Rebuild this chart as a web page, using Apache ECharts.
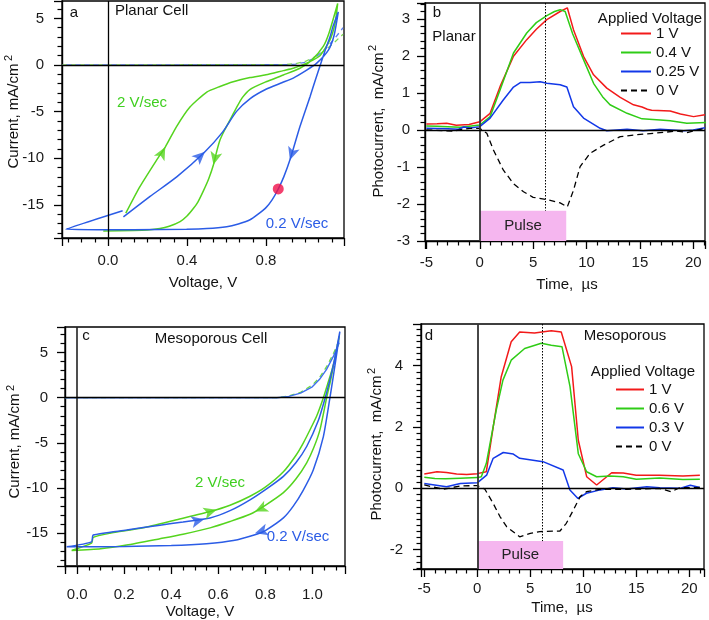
<!DOCTYPE html>
<html><head><meta charset="utf-8">
<script src="https://cdn.jsdelivr.net/npm/echarts@6/dist/echarts.min.js"></script>
<style>html,body{margin:0;padding:0;background:#fff}#c{width:709px;height:620px}</style>
</head><body><div id="c"></div>
<script>
// ---------- Panel a: planar cell J-V (V, mA/cm2) ----------
const A_DARK_GREEN = [[-0.233,0],[0.9,0.05],[0.95,0.15],[1.0,0.4],[1.05,0.9],[1.1,1.6],[1.15,2.5],[1.19,3.3]];
const A_DARK_BLUE  = [[-0.233,0],[0.9,0.03],[0.95,0.1],[1.0,0.3],[1.05,0.8],[1.1,1.7],[1.15,2.9],[1.19,4.0]];
const A_GREEN_FWD = [[0.09,-15.9],[0.16,-13.1],[0.246,-10.2],[0.29,-8.8],[0.347,-6.6],[0.415,-4.5],[0.5,-2.9],[0.567,-2.3],[0.634,-1.8],[0.719,-1.35],[0.8,-1.05],[0.888,-0.6],[0.938,-0.35],[1.006,0.2],[1.073,1.0],[1.124,2.7],[1.15,4.5],[1.163,6.6]];
const A_GREEN_REV = [[1.12,3.5],[1.09,2.0],[1.03,0.5],[0.972,-0.35],[0.888,-1.07],[0.8,-1.8],[0.72,-2.6],[0.68,-3.5],[0.65,-4.6],[0.62,-5.8],[0.59,-7.0],[0.567,-8.05],[0.55,-9.3],[0.534,-10.7],[0.51,-12.2],[0.483,-13.5],[0.455,-14.7],[0.432,-15.4],[0.4,-16.2],[0.365,-16.8],[0.31,-17.3],[0.263,-17.55],[0.2,-17.7],[0.128,-17.75],[-0.024,-17.8]];
const A_BLUE_FWD = [[0.078,-16.3],[0.213,-14.1],[0.348,-12.0],[0.491,-9.3],[0.58,-7.2],[0.65,-5.0],[0.72,-3.6],[0.8,-2.6],[0.88,-1.9],[0.938,-1.4],[1.006,-0.55],[1.057,0.2],[1.116,1.6],[1.145,3.2],[1.166,5.7]];
const A_BLUE_REV = [[1.14,4.2],[1.124,3.0],[1.1,1.6],[1.075,0],[1.05,-1.6],[1.023,-3.4],[0.972,-6.6],[0.921,-10.2],[0.89,-12.0],[0.862,-13.3],[0.83,-14.5],[0.8,-15.3],[0.76,-16.0],[0.719,-16.6],[0.66,-17.05],[0.601,-17.35],[0.5,-17.55],[0.398,-17.62],[0.128,-17.68],[-0.213,-17.62],[0.074,-15.63]];
const A_DOT = [[0.862,-13.3]];
const A_ARROW_POS = [[0.29,-8.8],[0.491,-9.3],[0.534,-10.7],[0.921,-10.2]];
const A_X_TICKS = [0.0,0.4,0.8];
const A_Y_TICKS = [-15,-10,-5,0,5];

// ---------- Panel b: planar photocurrent (us, mA/cm2) ----------
const B_RED = [[-5,0.16],[-4,0.17],[-3.1,0.18],[-2.2,0.13],[-1,0.15],[0,0.22],[0.97,0.45],[1.9,1.17],[3.16,1.99],[4.4,2.44],[5.3,2.72],[6.28,2.98],[7.53,3.2],[8.2,3.3],[8.78,2.71],[9.72,1.99],[10.66,1.49],[11.9,1.13],[13.16,0.88],[14.4,0.68],[15.2,0.62],[15.7,0.56],[16.1,0.53],[17.84,0.51],[18.8,0.43],[20.03,0.36],[21.1,0.41]];
const B_GREEN = [[-5,0.11],[-4,0.1],[-3,0.09],[-1.84,0.07],[-1,0.1],[0,0.135],[0.97,0.36],[1.9,1.08],[3.16,2.08],[4.4,2.62],[5.3,2.9],[6.28,3.09],[7.0,3.2],[7.53,3.25],[8.0,3.2],[8.7,2.6],[9.72,1.9],[10.66,1.26],[11.5,0.9],[12.2,0.68],[13.8,0.45],[15.2,0.3],[16.9,0.27],[17.84,0.25],[19.4,0.18],[21.2,0.2]];
const B_BLUE = [[-5,0.045],[-3,0.03],[-2,0.02],[-1.5,0.08],[-0.9,0.05],[0,0.09],[0.97,0.32],[2.2,0.81],[3.16,1.16],[3.8,1.28],[4.7,1.28],[5.66,1.3],[6.28,1.26],[7.53,1.22],[8.16,1.16],[8.78,0.63],[9.72,0.32],[11.28,0.045],[11.9,-0.02],[13.8,0.02],[15.3,-0.02],[16.9,0.02],[19.1,-0.02],[20,0.0],[21.1,0.06]];
const B_BLACK = [[-5,0.0],[-2.5,-0.03],[-1.5,0.02],[-0.9,0.045],[0,0.045],[0.66,-0.09],[1.28,-0.54],[2.2,-1.08],[3.16,-1.45],[4.1,-1.67],[5.0,-1.82],[6.28,-1.88],[7.53,-1.97],[8.2,-2.08],[8.78,-1.63],[9.4,-0.99],[10.34,-0.63],[11.6,-0.41],[13.16,-0.18],[15.03,-0.12],[16.28,-0.09],[18.47,-0.03],[19.4,-0.07],[21.1,0.045]];
const B_NAMES = ['1 V','0.4 V','0.25 V','0 V'];
const B_PULSE = [0, 8.1];
const B_PROBE = 6.15;
const B_X_TICKS = [-5,0,5,10,15,20];
const B_Y_TICKS = [-3,-2,-1,0,1,2,3];

// ---------- Panel c: mesoporous cell J-V ----------
const C_DARK_GREEN = [[-0.052,0],[0.85,0],[0.9,0.2],[0.95,0.6],[1.0,1.4],[1.03,2.2],[1.06,3.4],[1.09,4.9],[1.115,6.4]];
const C_DARK_BLUE  = [[-0.052,0],[0.85,0],[0.9,0.15],[0.95,0.5],[1.0,1.2],[1.03,2.0],[1.06,3.1],[1.09,4.6],[1.115,6.1]];
const C_GREEN_FWD = [[-0.024,-16.9],[0.061,-16.1],[0.068,-15.45],[0.139,-15.0],[0.281,-14.4],[0.423,-13.5],[0.565,-12.6],[0.65,-11.9],[0.735,-10.9],[0.8,-9.9],[0.877,-8.2],[0.93,-6.4],[0.962,-5.0],[0.995,-3.3],[1.019,-2.0],[1.047,0],[1.065,1.5],[1.083,3.0],[1.1,4.8],[1.115,6.8]];
const C_GREEN_REV = [[1.097,4.5],[1.08,2.2],[1.061,0],[1.033,-3.5],[1.005,-5.6],[0.976,-7.2],[0.93,-9.0],[0.877,-10.5],[0.8,-11.9],[0.735,-12.9],[0.65,-13.7],[0.565,-14.4],[0.45,-15.1],[0.352,-15.6],[0.21,-16.3],[0.1,-16.7],[-0.024,-16.9]];
const C_BLUE_FWD = [[-0.045,-16.5],[0.061,-15.95],[0.068,-15.2],[0.21,-14.65],[0.352,-14.1],[0.45,-13.75],[0.565,-13.3],[0.65,-12.5],[0.735,-11.3],[0.81,-10.0],[0.877,-8.7],[0.93,-7.2],[0.976,-5.4],[1.026,-2.5],[1.055,0],[1.075,2.0],[1.095,4.3],[1.117,7.3]];
const C_BLUE_REV = [[1.104,4.9],[1.09,2.5],[1.075,0],[1.047,-4.3],[1.004,-8.0],[0.96,-10.3],[0.919,-12.0],[0.877,-13.3],[0.8,-14.7],[0.763,-15.1],[0.664,-15.8],[0.55,-16.15],[0.4,-16.35],[0.2,-16.45],[0.0,-16.5],[-0.045,-16.5]];
const C_ARROW_POS = [[0.593,-12.4],[0.54,-13.45],[0.756,-12.6],[0.756,-15.0]];
const C_X_TICKS = [0.0,0.2,0.4,0.6,0.8,1.0];
const C_Y_TICKS = [-15,-10,-5,0,5];

// ---------- Panel d: mesoporous photocurrent ----------
const D_RED = [[-5,0.47],[-3.8,0.54],[-2.9,0.52],[-1.95,0.47],[-1,0.45],[0,0.48],[0.85,0.54],[1.5,2.0],[2.26,3.64],[3.2,4.78],[4.0,5.1],[5.4,5.07],[6.98,5.14],[7.92,5.1],[8.9,3.97],[9.53,1.57],[10.32,0.38],[11.26,0.11],[12.68,0.51],[13.77,0.5],[15.0,0.43],[17.2,0.43],[19.4,0.4],[21,0.43]];
const D_GREEN = [[-5,0.36],[-4,0.32],[-3,0.31],[-1.6,0.33],[0,0.35],[0.38,0.38],[0.85,0.81],[1.79,2.55],[2.42,3.53],[3.2,4.18],[4.47,4.56],[6.04,4.73],[6.98,4.67],[7.99,4.62],[8.75,3.32],[9.53,1.13],[10.32,0.54],[11.26,0.38],[12.5,0.4],[13.77,0.38],[15,0.3],[17.2,0.34],[19.4,0.29],[21,0.3]];
const D_BLUE = [[-5,0.16],[-2.9,0.05],[-1.6,0.16],[0,0.18],[0.88,0.43],[1.5,0.98],[2.45,1.17],[3.4,1.12],[4.0,0.98],[6.2,0.87],[8.1,0.6],[8.74,-0.05],[9.5,-0.33],[10.3,-0.16],[11.6,-0.05],[12.8,0.02],[14.1,-0.02],[16,0.05],[17.2,0.02],[19.1,0],[20.1,0.1],[21,0.03]];
const D_BLACK = [[-5,0.11],[-3.2,-0.03],[-1.6,0.08],[0,0.09],[0.72,-0.03],[1.5,-0.49],[2.14,-0.92],[2.77,-1.25],[4.0,-1.58],[5.0,-1.47],[5.9,-1.41],[7.8,-1.39],[8.4,-1.14],[9.06,-0.71],[9.7,-0.27],[10.3,-0.11],[11.6,-0.03],[14.1,-0.03],[15.7,-0.02],[17.2,0],[18.3,-0.11],[19.1,0.02],[21,0.03]];
const D_NAMES = ['1 V','0.6 V','0.3 V','0 V'];
const D_PULSE = [0, 8.1];
const D_PROBE = 6.15;
const D_X_TICKS = [-5,0,5,10,15,20];
const D_Y_TICKS = [-2,0,2,4];

// ---------- styling ----------
const FONT = "'Liberation Sans', Arial, sans-serif";
const GREEN_IV = '#55d41e', BLUE_IV = '#2b5ce6';
const RED_T = '#f21a1a', GREEN_T = '#2fcc16', BLUE_T = '#1238e8';

function grid(l, t, w, h) {
  return {left: l, top: t, width: w, height: h, show: true, borderColor: '#000', borderWidth: 1.3, backgroundColor: 'rgba(0,0,0,0)'};
}
function axis(dim, gi, min, max, majors, step, split, fmt, margin) {
  const isMajor = v => majors.some(m => Math.abs(m - v) < step * 1e-4);
  return {
    type: 'value', gridIndex: gi, min: min, max: max, position: dim === 'x' ? 'bottom' : 'left',
    minInterval: step, maxInterval: step, splitNumber: Math.round((max - min) / step),
    axisLine: {show: true, onZero: false, lineStyle: {color: '#000', width: 1.4}},
    axisTick: {show: true, inside: false, length: 8, lineStyle: {color: '#000', width: 1.3}},
    minorTick: {show: true, splitNumber: split, length: 4.5, lineStyle: {color: '#000', width: 1.2}},
    axisLabel: {show: true, formatter: v => isMajor(v) ? fmt(v) : '', margin: margin, fontSize: 15,
      color: '#1a1a1a', fontFamily: FONT, showMinLabel: isMajor(min), showMaxLabel: isMajor(max), hideOverlap: false},
    splitLine: {show: false}, minorSplitLine: {show: false}
  };
}
const f1 = v => Number(v).toFixed(1);
const f0 = v => String(Math.round(v));

const A_X = [-0.233, 1.195], A_Y = [-18.56, 6.87];
const B_X = [-5.13, 21.1],  B_Y = [-3, 3.43];
const C_X = [-0.052, 1.139], C_Y = [-18.62, 7.82];
const D_X = [-5.31, 21.39], D_Y = [-2.63, 5.36];

const xAxes = [
  axis('x', 0, A_X[0], A_X[1], A_X_TICKS, 0.4, 6, f1, 15),
  axis('x', 1, B_X[0], B_X[1], B_X_TICKS, 5, 5, f0, 14),
  axis('x', 2, C_X[0], C_X[1], C_X_TICKS, 0.2, 4, f1, 21),
  axis('x', 3, D_X[0], D_X[1], D_X_TICKS, 5, 5, f0, 12)
];
const yAxes = [
  axis('y', 0, A_Y[0], A_Y[1], A_Y_TICKS, 5, 5, f0, 18),
  axis('y', 1, B_Y[0], B_Y[1], B_Y_TICKS, 1, 5, f0, 15),
  axis('y', 2, C_Y[0], C_Y[1], C_Y_TICKS, 5, 5, f0, 17),
  axis('y', 3, D_Y[0], D_Y[1], D_Y_TICKS, 2, 10, f0, 18)
];

function line(name, ax, data, color, opts) {
  return Object.assign({
    type: 'line', name: name, xAxisIndex: ax, yAxisIndex: ax, data: data,
    symbol: 'none', showSymbol: false, animation: false, silent: true,
    lineStyle: {color: color, width: 1.5}, itemStyle: {color: color}, z: 3
  }, opts || {});
}
function zeroLines(vColor, vWidth) {
  return {silent: true, symbol: 'none', label: {show: false}, animation: false,
    lineStyle: {color: '#000', type: 'solid', width: 1.3},
    data: [{xAxis: 0, lineStyle: {color: vColor, width: vWidth, type: 'solid'}}, {yAxis: 0}]};
}
function arrows(ax, pos, rots, cols) {
  return {type: 'scatter', xAxisIndex: ax, yAxisIndex: ax, symbol: 'arrow', symbolSize: [9, 13],
    animation: false, silent: true, z: 6,
    data: pos.map((p, i) => ({value: p, symbolRotate: rots[i], itemStyle: {color: cols[i]}}))};
}
function transientMarks(probe, top, boxBottom, boxTop, pulse) {
  return {
    markLine: {silent: true, symbol: 'none', label: {show: false}, animation: false,
      lineStyle: {color: '#000', type: 'solid', width: 1.3},
      data: [{xAxis: 0, lineStyle: {color: '#333', width: 1.8, type: 'solid'}}, {yAxis: 0},
             [{coord: [probe, top], lineStyle: {color: '#000', width: 1, type: [1.5, 1.5]}}, {coord: [probe, boxTop]}]]},
    markArea: {silent: true, animation: false, itemStyle: {color: '#f5b6ef'},
      label: {show: true, position: 'inside', color: '#222', fontSize: 15, fontFamily: FONT},
      data: [[{name: 'Pulse', coord: [pulse[0], boxBottom]}, {coord: [pulse[1], boxTop]}]]}
  };
}

const series = [
  // panel a
  line('aDarkG', 0, A_DARK_GREEN, '#7fdc55', {lineStyle: {color: '#7fdc55', width: 1.3, type: [5, 4]},
      markLine: zeroLines('#000', 1.3)}),
  line('aDarkB', 0, A_DARK_BLUE, '#5b7ff0', {lineStyle: {color: '#5b7ff0', width: 1.3, type: [5, 4], dashOffset: 4.5}}),
  line('aGreen', 0, A_GREEN_FWD.concat(A_GREEN_REV), GREEN_IV, {smooth: 0.2}),
  line('aBlue', 0, A_BLUE_FWD.concat(A_BLUE_REV), BLUE_IV, {smooth: 0.2}),
  arrows(0, A_ARROW_POS, [-28, -47, 167, 162], [GREEN_IV, BLUE_IV, GREEN_IV, BLUE_IV]),
  {type: 'scatter', xAxisIndex: 0, yAxisIndex: 0, data: A_DOT, symbol: 'circle', symbolSize: 11,
   itemStyle: {color: '#f0104a'}, z: 7, animation: false, silent: true},
  // panel b
  line(B_NAMES[0], 1, B_RED, RED_T),
  line(B_NAMES[1], 1, B_GREEN, GREEN_T),
  line(B_NAMES[2], 1, B_BLUE, BLUE_T),
  line(B_NAMES[3], 1, B_BLACK, '#000', Object.assign({lineStyle: {color: '#000', width: 1.3, type: [6, 4]}},
    transientMarks(B_PROBE, B_Y[1], B_Y[0], -2.18, B_PULSE))),
  // panel c
  line('cDarkG', 2, C_DARK_GREEN, '#6fdc44', {lineStyle: {color: '#6fdc44', width: 1.3, type: [5, 4]},
      markLine: zeroLines('#222', 1.6)}),
  line('cDarkB', 2, C_DARK_BLUE, '#3f6fee', {lineStyle: {color: '#3f6fee', width: 1.4}}),
  line('cGreen', 2, C_GREEN_FWD.concat(C_GREEN_REV), GREEN_IV, {smooth: 0.2}),
  line('cBlue', 2, C_BLUE_FWD.concat(C_BLUE_REV), BLUE_IV, {smooth: 0.2}),
  arrows(2, C_ARROW_POS, [-73, -77, 115, 107], [GREEN_IV, BLUE_IV, GREEN_IV, BLUE_IV]),
  // panel d
  line(D_NAMES[0], 3, D_RED, RED_T),
  line(D_NAMES[1], 3, D_GREEN, GREEN_T),
  line(D_NAMES[2], 3, D_BLUE, BLUE_T),
  line(D_NAMES[3], 3, D_BLACK, '#000', Object.assign({lineStyle: {color: '#000', width: 1.3, type: [6, 4]}},
    transientMarks(D_PROBE, D_Y[1], D_Y[0], -1.72, D_PULSE)))
];

function txt(x, y, s, opts) {
  return {type: 'text', x: x, y: y, silent: true, z: 50,
    style: Object.assign({text: s, fontSize: 15, fontFamily: FONT, fill: '#111', align: 'center', verticalAlign: 'middle'}, opts || {})};
}
function vtxt(x, y, s, size) {
  return {type: 'text', x: x, y: y, rotation: Math.PI / 2, silent: true, z: 50,
    style: {text: s, fontSize: size || 15, fontFamily: FONT, fill: '#111', align: 'center', verticalAlign: 'middle'}};
}

const graphics = [
  // panel a
  txt(74, 13, 'a'), txt(115, 11, 'Planar Cell', {align: 'left'}),
  txt(142, 103, '2 V/sec', {fill: '#3fcf1f'}), txt(297, 224, '0.2 V/sec', {fill: BLUE_IV}),
  txt(203, 283, 'Voltage, V'),
  vtxt(14, 116, 'Current, mA/cm'), vtxt(9, 58, '2', 11),
  // panel b
  txt(437, 13, 'b'), txt(454, 37, 'Planar'),
  txt(650, 19, 'Applied Voltage'),
  txt(567, 285, 'Time,  µs'),
  vtxt(379, 125, 'Photocurrent,  mA/cm'), vtxt(373, 48, '2', 11),
  // panel c
  txt(86, 336, 'c'), txt(211, 339, 'Mesoporous Cell'),
  txt(220, 483, '2 V/sec', {fill: '#3fcf1f'}), txt(298, 537, '0.2 V/sec', {fill: BLUE_IV}),
  txt(200, 612, 'Voltage, V'),
  vtxt(15, 446, 'Current, mA/cm'), vtxt(11, 388, '2', 11),
  // panel d
  txt(429, 336, 'd'), txt(625, 336, 'Mesoporous'),
  txt(643, 372, 'Applied Voltage'),
  txt(562, 608, 'Time,  µs'),
  vtxt(377, 448, 'Photocurrent,  mA/cm'), vtxt(372, 371, '2', 11)
];

const legendBase = {orient: 'vertical', itemHeight: 14, itemGap: 4, selectedMode: false,
  itemStyle: {opacity: 0}, lineStyle: {opacity: 1},
  textStyle: {fontSize: 15, color: '#111', fontFamily: FONT}, padding: 0};

const chart = echarts.init(document.getElementById('c'), null, {renderer: 'canvas'});
chart.setOption({
  animation: false,
  backgroundColor: '#fff',
  textStyle: {fontFamily: FONT},
  grid: [grid(62, 1, 282, 237), grid(425, 3, 280, 238), grid(65, 327, 280, 239), grid(421, 324, 283, 245)],
  xAxis: xAxes,
  yAxis: yAxes,
  legend: [
    Object.assign({left: 620, top: 26, itemWidth: 30, data: B_NAMES}, legendBase),
    Object.assign({left: 615, top: 382, itemWidth: 28, data: D_NAMES}, legendBase)
  ],
  graphic: graphics,
  series: series
});
</script></body></html>
